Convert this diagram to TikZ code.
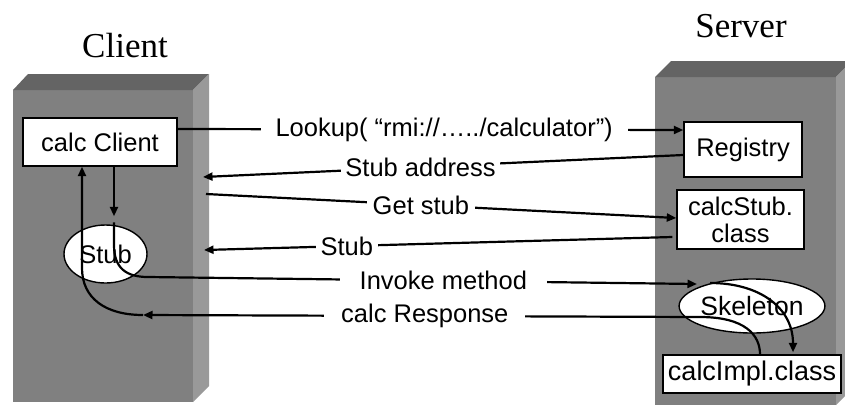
\documentclass[tikz,border=0pt]{standalone}
\usepackage{fontspec}
\setmainfont{Liberation Sans}
\newfontfamily\titlefont{Liberation Serif}
\usetikzlibrary{arrows.meta,shapes.geometric}

\definecolor{blockfront}{RGB}{128,128,128}
\definecolor{blocktop}{RGB}{100,100,100}
\definecolor{blockside}{RGB}{153,153,153}

\tikzset{
  body/.style={font=\fontsize{25.5}{27}\selectfont},
  box/.style={body, draw=black, line width=1.4pt, fill=white, inner sep=0pt, align=center},
  oval/.style={body, ellipse, draw=black, line width=1.4pt, fill=white, inner sep=0pt},
  arr/.style={line width=2.2pt, -{Triangle[length=9.5pt,width=8pt]}},
  lbl/.style={body, fill=white, inner ysep=1pt, sloped=false},
  title/.style={font=\titlefont\fontsize{35}{37}\selectfont, anchor=base}
}

\begin{document}
\begin{tikzpicture}[x=1pt,y=-1pt]
\useasboundingbox (0,0) rectangle (845,405);

% client block
\fill[blockfront] (13,90) rectangle (193,402);
\fill[blocktop] (13,90) -- (28,74) -- (209,74) -- (193,90) -- cycle;
\fill[blockside] (193,90) -- (209,74) -- (209,386) -- (193,402) -- cycle;

% server block
\fill[blockfront] (655,77) rectangle (836,405);
\fill[blocktop] (655,77) -- (671,61) -- (852,61) -- (836,77) -- cycle;
\fill[blockside] (836,77) -- (852,61) -- (852,389) -- (836,405) -- cycle;

% titles
\node[title] (tclient) at (125,57) {Client};
\node[title] (tserver) at (741,37) {Server};

% components
\node[box, minimum width=154pt, minimum height=48pt] (calcclient) at (100,142) {calc Client};
\node[oval, minimum width=83pt, minimum height=58pt] (stub) at (105.5,254) {Stub};
\node[box, minimum width=118pt, minimum height=55pt] (registry) at (743,149.5) {Registry};
\node[box, minimum width=127pt, minimum height=59pt] (calcstub) at (740.5,219.5) {calcStub.\\class};
\node[oval, minimum width=110pt, minimum height=54pt, font=\fontsize{26.5}{28}\selectfont] (skeleton) at (752,306) {Skeleton};
\node[box, minimum width=178pt, minimum height=38pt, font=\fontsize{27}{28}\selectfont] (calcimpl) at (752,374) {calcImpl.class};

% free ends on the client block
\coordinate (saend) at (203,177);
\coordinate (gsstart) at (206,194);
\coordinate (stend) at (204,250);
\coordinate (crend) at (143,315);

% lookup and stub transfer
\draw[arr] ([yshift=13pt]calcclient.east) -- node[lbl, inner xsep=15pt, pos=0.527] {Lookup( “rmi://…../calculator”)} ([yshift=19.5pt]registry.west);
\draw[arr] ([yshift=-5.5pt]registry.west) -- node[lbl, inner xsep=4pt, pos=0.547] {Stub address} (saend);
\draw[arr] (gsstart) -- node[lbl, inner xsep=6pt, pos=0.457] {Get stub} ([yshift=1.5pt]calcstub.west);
\draw[arr] ([shift={(-4pt,-17.5pt)}]calcstub.west) -- node[lbl, inner xsep=5pt, pos=0.695] {Stub} (stend);

% call inside the client
\draw[arr] ([xshift=14pt]calcclient.south) -- ([shift={(8.5pt,8pt)}]stub.north);

% invocation through stub and skeleton
\draw[arr] ([shift={(8.5pt,2pt)}]stub.north) -- (114,245) .. controls (114,268) and (126,277) .. (148,277)
  -- node[lbl, inner xsep=20pt, pos=0.538] {Invoke method} ([shift={(-55pt,22pt)}]skeleton.center);
\draw[arr] ([shift={(-42pt,23pt)}]skeleton.center) .. controls (760,283) and (793,308) .. ([shift={(41pt,2pt)}]calcimpl.north);

% response back to the client
\draw[arr] ([xshift=8pt]calcimpl.north) .. controls (760,335) and (745,317) .. (700,317)
  -- node[lbl, inner xsep=17pt, pos=0.494] {calc Response} (crend);
\draw[arr] (crend) .. controls (105,315) and (82,298) .. (82,268) -- ([xshift=-18pt]calcclient.south);
\end{tikzpicture}
\end{document}
